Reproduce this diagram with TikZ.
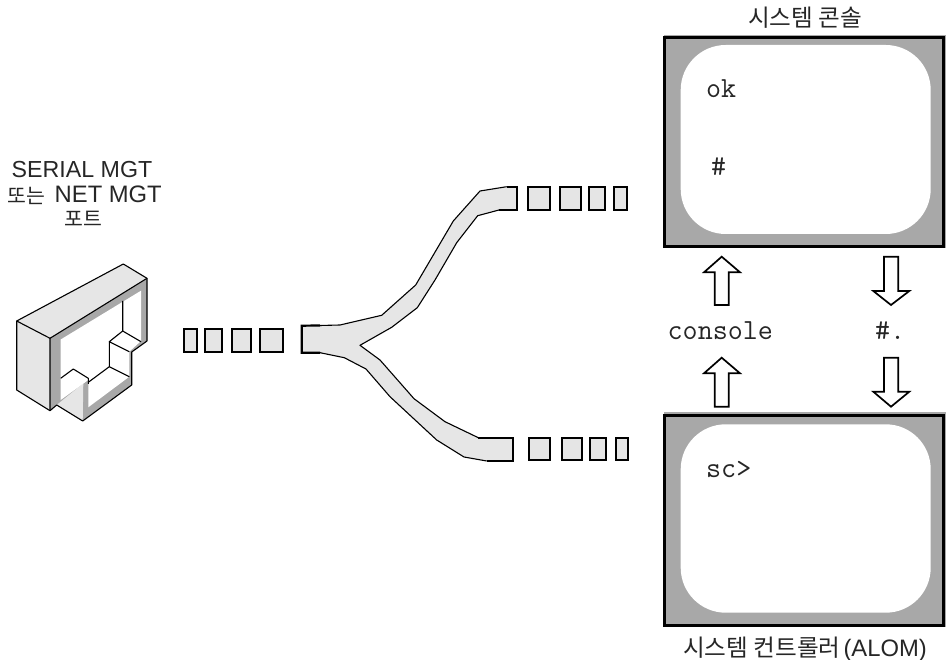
\documentclass[tikz,border=0pt]{standalone}
\usepackage{fontspec}
\setmainfont{Liberation Sans}
\newfontfamily\krfont{Noto Sans CJK KR}
\tikzset{
  x=1pt,y=-1pt,
  label text/.style={inner sep=0pt,anchor=base,text=black!85},
  kor/.style={label text,font=\krfont\fontsize{23.6}{24}\selectfont},
  mono/.style={inner sep=0pt,anchor=base west,text=black!85,font=\ttfamily\fontsize{29.2}{29}\selectfont},
  pkt/.style={draw=black,fill=black!10,line width=2.2pt},
  thinline/.style={draw=black,line width=1.1pt,line join=round},
  screen/.style={draw=black,fill=scrgray,line width=3pt},
  glass/.style={fill=white,rounded corners=45pt},
  block arrow/.style={draw=black,fill=white,line width=1.7pt,line join=miter},
}
\definecolor{scrgray}{HTML}{A8A8A8}
\definecolor{lightg}{HTML}{E6E6E6}
\begin{document}
\begin{tikzpicture}
\useasboundingbox (0,0) rectangle (946,660);
\clip (0,0) rectangle (946,660);
% labels
\node[label text,font=\fontsize{23.2}{24}\selectfont] (lserial) at (82,178) {SERIAL MGT};
\node[inner sep=0pt,anchor=base west,font=\krfont\fontsize{20.5}{21}\selectfont,text=black!85] (lor) at (7,204) {또는};
\node[inner sep=0pt,anchor=base west,font=\fontsize{23.8}{24}\selectfont,text=black!85] (lnet) at (54.5,203) {NET MGT};
\node[label text,font=\krfont\fontsize{20.5}{21}\selectfont] (lport) at (83,227) {포트};
\node[kor] (ltop) at (805,27) {시스템 콘솔};
\node[inner sep=0pt,anchor=base west,font=\krfont\fontsize{23.6}{24}\selectfont,text=black!85] (lbot) at (683,656) {시스템 컨트롤러};
\node[inner sep=0pt,anchor=base east,font=\fontsize{23.8}{24}\selectfont,text=black!85] (lalom) at (927,656.5) {(ALOM)};
% port
\fill[lightg] (16.7,321) -- (123.3,264) -- (147,278.3) -- (50,338.3) -- cycle;
\fill[lightg] (16.7,321) -- (50,338.3) -- (50,410.7) -- (16.7,390) -- cycle;
\fill[scrgray] (50,338.3) -- (147,278.3) -- (147,341) -- (131.7,352) -- (131.7,385) -- (82.7,421) -- (56.7,405) -- (50,410.7) -- cycle;
\fill[lightg] (56.7,405) -- (83.3,383.3) -- (82.7,421) -- cycle;
\fill[white] (60.7,339.5) -- (141,290.7) -- (141,341) -- (129.3,351.7) -- (129.3,376.7) -- (88.3,407.3) -- (88.3,380) -- (60.7,400) -- cycle;
\draw[thinline] (16.7,321) -- (123.3,264) -- (147,278.3) -- (147,341) -- (131.7,352) -- (131.7,385) -- (82.7,421) -- (56.7,405) -- (50,410.7) -- (16.7,390) -- cycle;
\draw[thinline] (16.7,321) -- (50,338.3) -- (50,410.7);
\draw[thinline] (50,338.3) -- (147,278.3);
\draw[thinline] (122.7,301) -- (122.7,331) -- (141,341.7);
\draw[thinline] (122.7,331) -- (109.3,341.7) -- (129.3,351.7);
\draw[thinline] (109.3,341.7) -- (109.3,366.7) -- (129.3,376.7);
\draw[thinline] (109.3,366.7) -- (88.3,382.3);
\draw[thinline] (60.7,378.3) -- (73.3,369) -- (88.3,378.3) -- (88.3,384);
% packets left
\draw[pkt] (184,329) rectangle (196.7,352);
\draw[pkt] (205.3,329) rectangle (222.3,352);
\draw[pkt] (231.7,329) rectangle (251.3,352);
\draw[pkt] (260,329) rectangle (283.3,352);
% cable
\fill[lightg] (301.7,325.7) -- (340,325) -- (381.7,315.3) -- (415.7,285) -- (453.3,221) -- (480,191) -- (506.7,186.7) -- (517,186.7) -- (517,210) -- (499,210) -- (477.7,215.7) -- (456.7,242.7) -- (435,280) -- (417.3,307.7) -- (391.7,327.3) -- (360,345.3) -- (380,360) -- (414,398.7) -- (445,421.7) -- (478.3,437.7) -- (513.3,437.7) -- (513.3,461) -- (486.7,461) -- (464,457) -- (436.7,440) -- (390,396.7) -- (366,369) -- (344.3,357.7) -- (320,352.7) -- (301.7,352.7) -- cycle;
\draw[thinline] (320,325.5) -- (340,325) -- (381.7,315.3) -- (415.7,285) -- (453.3,221) -- (480,191) -- (506.7,186.7);
\draw[thinline] (499,210) -- (477.7,215.7) -- (456.7,242.7) -- (435,280) -- (417.3,307.7) -- (391.7,327.3) -- (360,345.3) -- (380,360) -- (414,398.7) -- (445,421.7) -- (478.3,437.7);
\draw[thinline] (486.7,461) -- (464,457) -- (436.7,440) -- (390,396.7) -- (366,369) -- (344.3,357.7) -- (320,352.7);
\draw[draw=black,line width=2.2pt] (320,325.5) -- (301.7,325.7) -- (301.7,352.7) -- (320,352.7);
\draw[draw=black,line width=2.2pt] (499,210) -- (517,210) -- (517,186.7) -- (506.7,186.7);
\draw[draw=black,line width=2.2pt] (478.3,437.7) -- (513.3,437.7) -- (513.3,461) -- (486.7,461);
% packets right
\draw[pkt] (527.7,186.7) rectangle (550.3,210);
\draw[pkt] (559.7,186.7) rectangle (581.3,210);
\draw[pkt] (588.7,186.7) rectangle (605,210);
\draw[pkt] (614,186.7) rectangle (627.3,210);
\draw[pkt] (528.7,437.7) rectangle (550,460.3);
\draw[pkt] (561.7,437.7) rectangle (582,460.3);
\draw[pkt] (589.7,437.7) rectangle (606,460.3);
\draw[pkt] (616,437.7) rectangle (628.3,460.3);
% screens
\fill[scrgray] (664.3,35) rectangle (946,38);
\fill[scrgray] (943.5,35) rectangle (946,248);
\draw[screen] (664.3,38) rectangle (943.5,246.7);
\fill[glass] (680.7,45) rectangle (930.7,234);
\fill[scrgray] (664.3,412.5) rectangle (946,415.5);
\fill[scrgray] (943.5,412.5) rectangle (946,626.5);
\draw[screen] (664.3,415.5) rectangle (943.5,625);
\fill[glass] (680.7,424.3) rectangle (930.7,612.7);
\node[mono] (tok) at (706,98) {ok};
\node[mono] (thash) at (711,176) {\#};
\node[mono] (tsc) at (706,478) {sc>};
\node[mono] (tcons) at (667.5,340) {console};
\node[mono] (tquit) at (875,340) {\#.};
% arrows
\draw[block arrow] (721.7,256.7) -- (740,272.3) -- (728.7,272.3) -- (728.7,305) -- (714.7,305) -- (714.7,272.3) -- (704,272.3) -- cycle;
\draw[block arrow] (721.7,357.7) -- (740,373.3) -- (728.7,373.3) -- (728.7,406.7) -- (714.7,406.7) -- (714.7,373.3) -- (704,373.3) -- cycle;
\draw[block arrow] (884,256.7) -- (898.3,256.7) -- (898.3,291) -- (909.3,291) -- (891,305) -- (873.3,291) -- (884,291) -- cycle;
\draw[block arrow] (884,357.7) -- (898.3,357.7) -- (898.3,391.7) -- (909.3,391.7) -- (891,406.7) -- (873.3,391.7) -- (884,391.7) -- cycle;
\end{tikzpicture}
\end{document}
